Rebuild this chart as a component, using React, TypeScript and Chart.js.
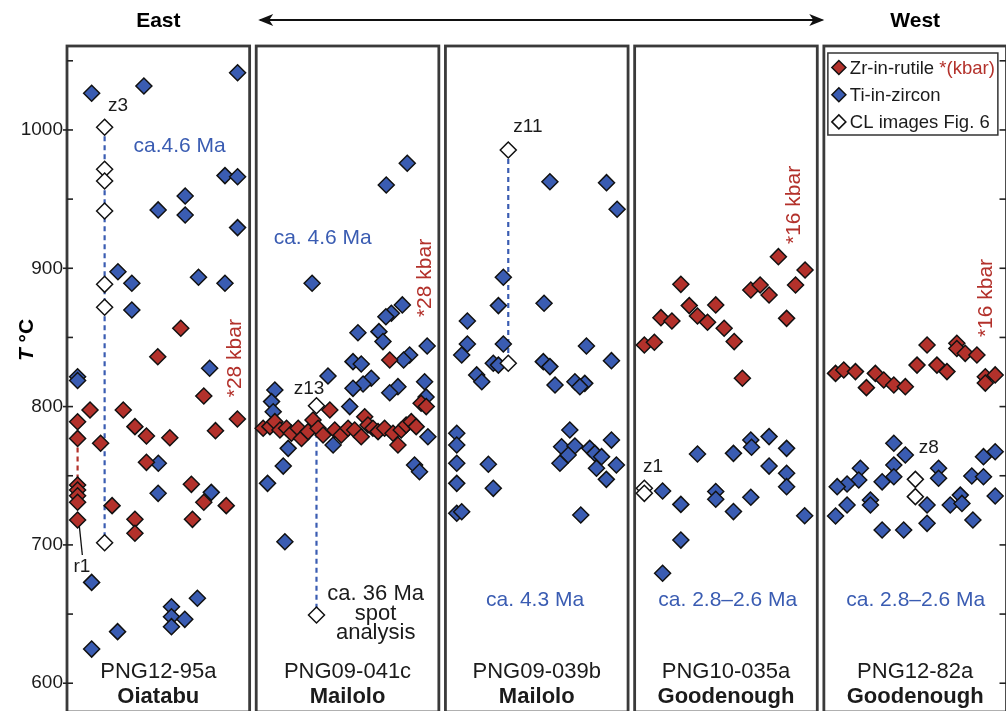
import React, { useEffect, useRef } from 'react';
import { Chart, registerables } from 'chart.js';

Chart.register(...registerables);

const FONT = '"Liberation Sans", Arial, Helvetica, sans-serif';
const RED = '#B3312B';
const BLUE = '#3A5CB2';
const DARK = '#1b1b1b';

// panel metadata
const sampleNames = ['PNG12-95a', 'PNG09-041c', 'PNG09-039b', 'PNG10-035a', 'PNG12-82a'];
const localities = ['Oiatabu', 'Mailolo', 'Mailolo', 'Goodenough', 'Goodenough'];
const yTicks = [600, 700, 800, 900, 1000];

// [position inside panel (0-1), T °C]
const p1Rutile = [[0.058, 789], [0.058, 777], [0.126, 797.5], [0.308, 797.5], [0.184, 773.5], [0.372, 785.5], [0.435, 778.7], [0.563, 777.5], [0.435, 759.7], [0.749, 807.7], [0.813, 782.6], [0.933, 791], [0.681, 743.8], [0.749, 730.8], [0.872, 728.4], [0.687, 718.5], [0.247, 728.4], [0.372, 718.5], [0.372, 708.4], [0.058, 743.3], [0.058, 739.7], [0.058, 735.5], [0.058, 730.8], [0.058, 718], [0.623, 856.6], [0.497, 836]];
const p1Zircon = [[0.135, 1026.5], [0.421, 1031.8], [0.934, 1041.4], [0.865, 967], [0.934, 966.2], [0.647, 952.3], [0.499, 942.2], [0.647, 938.5], [0.934, 929.4], [0.279, 897.5], [0.355, 889.2], [0.72, 893.5], [0.865, 889.2], [0.355, 869.8], [0.058, 821.6], [0.058, 818.9], [0.781, 827.7], [0.5, 759], [0.499, 737.3], [0.79, 738], [0.135, 672.9], [0.714, 661.4], [0.572, 655.3], [0.572, 648.1], [0.645, 646.2], [0.572, 640.9], [0.277, 637.3], [0.135, 624.7]];
const p1CL = [[0.206, 1002], [0.206, 971.6], [0.206, 963.1], [0.206, 941.4], [0.206, 888.4], [0.206, 871.8], [0.206, 701.6]];

const p2Rutile = [[0.038, 784.3], [0.075, 785.5], [0.102, 789.1], [0.13, 783.1], [0.166, 784.3], [0.193, 780.7], [0.23, 784.3], [0.248, 777], [0.284, 781.9], [0.311, 790.3], [0.339, 784.3], [0.366, 779.5], [0.403, 797.5], [0.43, 783.1], [0.466, 779.5], [0.503, 784.3], [0.539, 783.1], [0.575, 778.2], [0.594, 792.7], [0.612, 786.7], [0.639, 784.3], [0.667, 781.9], [0.703, 784.3], [0.749, 780.7], [0.776, 772.2], [0.794, 783.1], [0.821, 786.7], [0.849, 789.1], [0.876, 785.5], [0.903, 802.4], [0.931, 800], [0.731, 833.7]];
const p2Zircon = [[0.827, 975.9], [0.712, 960.2], [0.306, 889.2], [0.8, 873.5], [0.74, 867.5], [0.71, 865], [0.557, 853.4], [0.672, 854.2], [0.694, 847], [0.936, 843.8], [0.84, 837.3], [0.807, 833.7], [0.53, 832.5], [0.575, 830.8], [0.393, 822.1], [0.63, 820.5], [0.585, 816.3], [0.53, 813.2], [0.776, 814.4], [0.731, 810], [0.922, 818], [0.102, 812], [0.084, 803.6], [0.512, 800], [0.93, 807], [0.093, 796.3], [0.175, 769.8], [0.148, 757], [0.062, 744.5], [0.157, 702.3], [0.421, 772.2], [0.94, 778.2], [0.867, 757.8], [0.894, 752.9]];
const p2CL = [[0.33, 800.6], [0.33, 649.3]];

const p3Zircon = [[0.572, 962.6], [0.882, 961.9], [0.94, 942.7], [0.317, 893.5], [0.29, 873], [0.54, 874.7], [0.12, 861.9], [0.12, 845.3], [0.317, 845.3], [0.089, 837.3], [0.772, 843.8], [0.909, 833.2], [0.536, 832.5], [0.572, 828.9], [0.262, 831.3], [0.29, 830], [0.171, 822.9], [0.199, 818], [0.6, 815.6], [0.709, 818], [0.763, 816.8], [0.736, 814.4], [0.062, 780.7], [0.062, 772.2], [0.062, 759], [0.062, 744.5], [0.062, 722.9], [0.089, 724], [0.235, 758.3], [0.262, 740.9], [0.681, 783.1], [0.636, 771], [0.709, 771.5], [0.672, 765], [0.627, 759], [0.79, 769.8], [0.818, 766.2], [0.855, 763.8], [0.909, 775.8], [0.936, 757.8], [0.827, 755.4], [0.881, 747.4], [0.741, 721.6]];
const p3CL = [[0.344, 985.5], [0.344, 831.3]];

const p4Rutile = [[0.787, 908.4], [0.933, 898.8], [0.881, 887.9], [0.253, 888.4], [0.636, 884.3], [0.687, 887.9], [0.736, 880.7], [0.832, 863.8], [0.299, 873], [0.344, 865.5], [0.399, 861], [0.444, 873.5], [0.49, 856.6], [0.545, 847], [0.144, 864.3], [0.204, 861.9], [0.053, 844.5], [0.108, 846.5], [0.59, 820.5]];
const p4Zircon = [[0.736, 778.3], [0.636, 775.8], [0.64, 770.6], [0.541, 766.2], [0.344, 765.7], [0.832, 769.8], [0.736, 757], [0.832, 751.8], [0.832, 742.1], [0.153, 739], [0.253, 729.3], [0.444, 738.6], [0.444, 733], [0.636, 734.5], [0.541, 724.1], [0.931, 721.1], [0.253, 703.5], [0.153, 679.5]];
const p4CL = [[0.053, 741], [0.053, 737.3]];

const p5Rutile = [[0.064, 824], [0.109, 826.5], [0.173, 825.3], [0.233, 813.7], [0.282, 824], [0.328, 819.2], [0.383, 815.6], [0.446, 814.4], [0.51, 830], [0.565, 844.5], [0.619, 830], [0.674, 825.3], [0.728, 845.8], [0.728, 842], [0.774, 838.5], [0.838, 837.3], [0.884, 821.6], [0.884, 817], [0.938, 822.9]];
const p5Zircon = [[0.383, 773.5], [0.446, 765], [0.383, 757.8], [0.383, 749.3], [0.319, 745.6], [0.2, 755.4], [0.191, 746.9], [0.127, 744], [0.073, 742.1], [0.127, 728.9], [0.064, 720.9], [0.255, 732.5], [0.255, 728.9], [0.319, 710.8], [0.437, 710.8], [0.565, 728.9], [0.565, 715.6], [0.628, 755.4], [0.628, 748.2], [0.692, 728.9], [0.747, 736], [0.756, 730], [0.816, 718], [0.81, 749.8], [0.874, 749.3], [0.874, 763.8], [0.938, 767.4], [0.938, 735.4]];
const p5CL = [[0.501, 747.4], [0.501, 734.9]];

// dashed connectors: [panel, position, T top, T bottom]
const clConnectors = [[0, 0.206, 1002, 701.6], [1, 0.33, 800.6, 649.3], [2, 0.344, 985.5, 831.3]];
const rutileConnectors = [[0, 0.058, 777, 743.3]];
const r1Leader = [[0, 0.066, 715.6], [0, 0.084, 692.7]];

// text annotations: [panel, position, T, text, kind]
const notes: [number, number, number, string, string][] = [
  [0, 0.279, 1017.4, 'z3', 'label'],
  [0, 0.617, 988.4, 'ca.4.6 Ma', 'age'],
  [0, 0.923, 835, '*28 kbar', 'kbar'],
  [0, 0.082, 684, 'r1', 'label'],
  [1, 0.364, 921.9, 'ca. 4.6 Ma', 'age'],
  [1, 0.928, 893, '*28 kbar', 'kbar'],
  [1, 0.289, 812.7, 'z13', 'label'],
  [1, 0.654, 664.5, 'ca. 36 Ma', 'note'],
  [1, 0.654, 650, 'spot', 'note'],
  [1, 0.654, 636.3, 'analysis', 'note'],
  [2, 0.452, 1002, 'z11', 'label'],
  [2, 0.491, 660, 'ca. 4.3 Ma', 'age'],
  [3, 0.876, 945.8, '*16 kbar', 'kbar'],
  [3, 0.1, 756.3, 'z1', 'label'],
  [3, 0.51, 660, 'ca. 2.8–2.6 Ma', 'age'],
  [4, 0.891, 878.5, '*16 kbar', 'kbar'],
  [4, 0.574, 770, 'z8', 'label'],
  [4, 0.503, 660, 'ca. 2.8–2.6 Ma', 'age'],
];

const PANEL_W = 183 / 189.6;
const Y_MIN = 579.2;
const Y_MAX = 1060.7;

const toPts = (panel: number, arr: number[][]) => arr.map(([lx, t]) => ({ x: panel + lx * PANEL_W, y: t }));

const rutile = [...toPts(0, p1Rutile), ...toPts(1, p2Rutile), ...toPts(3, p4Rutile), ...toPts(4, p5Rutile)];
const zircon = [...toPts(0, p1Zircon), ...toPts(1, p2Zircon), ...toPts(2, p3Zircon), ...toPts(3, p4Zircon), ...toPts(4, p5Zircon)];
const cl = [...toPts(0, p1CL), ...toPts(1, p2CL), ...toPts(2, p3CL), ...toPts(3, p4CL), ...toPts(4, p5CL)];

function diamond(ctx: CanvasRenderingContext2D, x: number, y: number, r: number, fill: string) {
  ctx.beginPath();
  ctx.moveTo(x - r, y);
  ctx.lineTo(x, y - r);
  ctx.lineTo(x + r, y);
  ctx.lineTo(x, y + r);
  ctx.closePath();
  ctx.fillStyle = fill;
  ctx.fill();
  ctx.lineWidth = 1.5;
  ctx.strokeStyle = '#111';
  ctx.stroke();
}

const decor = {
  id: 'decor',
  beforeDatasetsDraw(chart: any) {
    const { ctx, chartArea } = chart;
    const x = chart.scales.x;
    const y = chart.scales.y;
    ctx.save();
    ctx.strokeStyle = '#3a3a3a';
    ctx.lineWidth = 2.8;
    for (let i = 0; i < 5; i++) {
      const l = x.getPixelForValue(i);
      const r = x.getPixelForValue(i + PANEL_W);
      ctx.strokeRect(l, chartArea.top, r - l, chartArea.bottom - chartArea.top);
    }
    ctx.strokeStyle = '#222';
    ctx.lineWidth = 1.6;
    const l0 = x.getPixelForValue(0);
    const r4 = x.getPixelForValue(4 + PANEL_W);
    for (let v = 600; v <= 1050; v += 50) {
      const py = y.getPixelForValue(v);
      ctx.beginPath();
      ctx.moveTo(v % 100 === 0 ? l0 - 4 : l0, py);
      ctx.lineTo(l0 + 6, py);
      ctx.stroke();
      ctx.beginPath();
      ctx.moveTo(r4 - 7, py);
      ctx.lineTo(r4, py);
      ctx.stroke();
    }
    ctx.restore();
  },
  afterDraw(chart: any) {
    const { ctx, chartArea } = chart;
    const x = chart.scales.x;
    const y = chart.scales.y;
    ctx.save();
    ctx.textAlign = 'center';
    ctx.textBaseline = 'middle';

    // annotations
    for (const [p, lx, t, s, kind] of notes) {
      const px = x.getPixelForValue(p + lx * PANEL_W);
      const py = y.getPixelForValue(t);
      if (kind === 'kbar') {
        ctx.save();
        ctx.translate(px, py);
        ctx.rotate(-Math.PI / 2);
        ctx.font = `21px ${FONT}`;
        ctx.fillStyle = RED;
        ctx.fillText(s, 0, 0);
        ctx.restore();
      } else if (kind === 'age') {
        ctx.font = `21px ${FONT}`;
        ctx.fillStyle = BLUE;
        ctx.fillText(s, px, py);
      } else if (kind === 'note') {
        ctx.font = `22px ${FONT}`;
        ctx.fillStyle = DARK;
        ctx.fillText(s, px, py);
      } else {
        ctx.font = `19px ${FONT}`;
        ctx.fillStyle = DARK;
        ctx.fillText(s, px, py);
      }
    }

    // sample names and localities
    for (let i = 0; i < 5; i++) {
      const cx = x.getPixelForValue(i + PANEL_W / 2);
      ctx.fillStyle = DARK;
      ctx.font = `22px ${FONT}`;
      ctx.fillText(sampleNames[i], cx, chartArea.bottom - 40);
      ctx.font = `bold 22px ${FONT}`;
      ctx.fillText(localities[i], cx, chartArea.bottom - 15);
    }

    // East / West titles and arrow
    ctx.font = `bold 21px ${FONT}`;
    ctx.fillStyle = '#000';
    ctx.fillText('East', x.getPixelForValue(PANEL_W / 2), 21);
    ctx.fillText('West', x.getPixelForValue(4 + PANEL_W / 2), 21);
    const ax0 = x.getPixelForValue(1) + 2;
    const ax1 = x.getPixelForValue(3 + PANEL_W) + 7;
    const ay = 20;
    ctx.strokeStyle = '#111';
    ctx.fillStyle = '#111';
    ctx.lineWidth = 2;
    ctx.beginPath();
    ctx.moveTo(ax0 + 2, ay);
    ctx.lineTo(ax1 - 2, ay);
    ctx.stroke();
    for (const [tip, dir] of [[ax0, 1], [ax1, -1]]) {
      ctx.beginPath();
      ctx.moveTo(tip, ay);
      ctx.lineTo(tip + dir * 15, ay - 6);
      ctx.lineTo(tip + dir * 11, ay);
      ctx.lineTo(tip + dir * 15, ay + 6);
      ctx.closePath();
      ctx.fill();
    }

    // y-axis title
    ctx.save();
    ctx.translate(27, 340);
    ctx.rotate(-Math.PI / 2);
    ctx.textAlign = 'left';
    ctx.font = `italic bold 21px ${FONT}`;
    const wT = ctx.measureText('T').width;
    ctx.font = `bold 21px ${FONT}`;
    const wC = ctx.measureText(' °C').width;
    const start = -(wT + wC) / 2;
    ctx.fillStyle = '#000';
    ctx.font = `italic bold 21px ${FONT}`;
    ctx.fillText('T', start, 0);
    ctx.font = `bold 21px ${FONT}`;
    ctx.fillText(' °C', start + wT, 0);
    ctx.restore();

    // legend
    const lgx = x.getPixelForValue(4) + 4;
    const lgy = chartArea.top + 7;
    ctx.fillStyle = '#fff';
    ctx.fillRect(lgx, lgy, 170, 82);
    ctx.strokeStyle = '#333';
    ctx.lineWidth = 1.5;
    ctx.strokeRect(lgx, lgy, 170, 82);
    const rows: [string, string, string][] = [
      [RED, 'Zr-in-rutile ', '*(kbar)'],
      [BLUE, 'Ti-in-zircon', ''],
      ['#fff', 'CL images Fig. 6', ''],
    ];
    ctx.textAlign = 'left';
    ctx.font = `18.5px ${FONT}`;
    rows.forEach(([c, s, extra], k) => {
      const ry = lgy + 14.5 + k * 27.2;
      diamond(ctx, lgx + 11, ry, 7, c);
      ctx.fillStyle = DARK;
      ctx.fillText(s, lgx + 22, ry + 1);
      if (extra) {
        const w = ctx.measureText(s).width;
        ctx.fillStyle = RED;
        ctx.fillText(extra, lgx + 22 + w, ry + 1);
      }
    });
    ctx.restore();
  },
};

const connectorDatasets = [
  ...clConnectors.map(([p, lx, t1, t2]) => ({
    type: 'line' as const,
    data: [{ x: p + lx * PANEL_W, y: t1 }, { x: p + lx * PANEL_W, y: t2 }],
    borderColor: BLUE,
    borderWidth: 2.2,
    borderDash: [5, 4],
    pointRadius: 0,
    showLine: true,
    order: 10,
  })),
  ...rutileConnectors.map(([p, lx, t1, t2]) => ({
    type: 'line' as const,
    data: [{ x: p + lx * PANEL_W, y: t1 }, { x: p + lx * PANEL_W, y: t2 }],
    borderColor: RED,
    borderWidth: 2.2,
    borderDash: [5, 4],
    pointRadius: 0,
    showLine: true,
    order: 10,
  })),
  {
    type: 'line' as const,
    data: r1Leader.map(([p, lx, t]) => ({ x: p + lx * PANEL_W, y: t })),
    borderColor: '#111',
    borderWidth: 1.3,
    pointRadius: 0,
    showLine: true,
    order: 10,
  },
];

export default function App() {
  const ref = useRef<HTMLCanvasElement | null>(null);
  useEffect(() => {
    if (!ref.current) return;
    const pointBase = {
      pointStyle: 'rectRot',
      pointRadius: 8,
      borderColor: '#111',
      borderWidth: 1.5,
      showLine: false,
    };
    const chart = new Chart(ref.current, {
      type: 'scatter',
      data: {
        datasets: [
          ...connectorDatasets,
          { ...pointBase, label: 'Ti-in-zircon', data: zircon, backgroundColor: BLUE, pointBackgroundColor: BLUE, order: 3 },
          { ...pointBase, label: 'Zr-in-rutile', data: rutile, backgroundColor: RED, pointBackgroundColor: RED, order: 2 },
          { ...pointBase, label: 'CL images Fig. 6', data: cl, backgroundColor: '#fff', pointBackgroundColor: '#fff', order: 1 },
        ] as any,
      },
      options: {
        responsive: false,
        animation: false,
        events: [],
        layout: { padding: { top: 46, right: 8, bottom: 20, left: 0 } },
        plugins: { legend: { display: false }, tooltip: { enabled: false }, title: { display: false } },
        scales: {
          x: { type: 'linear', display: false, min: 0, max: 4 + PANEL_W },
          y: {
            type: 'linear',
            min: Y_MIN,
            max: Y_MAX,
            afterFit: (s: any) => { s.width = 67; },
            grid: { display: false, drawTicks: false },
            border: { display: false },
            afterBuildTicks: (s: any) => { s.ticks = yTicks.map((v) => ({ value: v })); },
            ticks: {
              padding: 4,
              color: '#1b1b1b',
              font: { family: FONT, size: 19 },
              callback: (v: any) => String(v),
            },
          },
        },
      },
      plugins: [decor],
    });
    return () => chart.destroy();
  }, []);
  return (
    <div style={{ position: 'absolute', left: 0, top: 0, width: 1006, height: 711, overflow: 'hidden', background: '#fff' }}>
      <canvas ref={ref} width={1016} height={732} style={{ display: 'block' }} />
    </div>
  );
}
